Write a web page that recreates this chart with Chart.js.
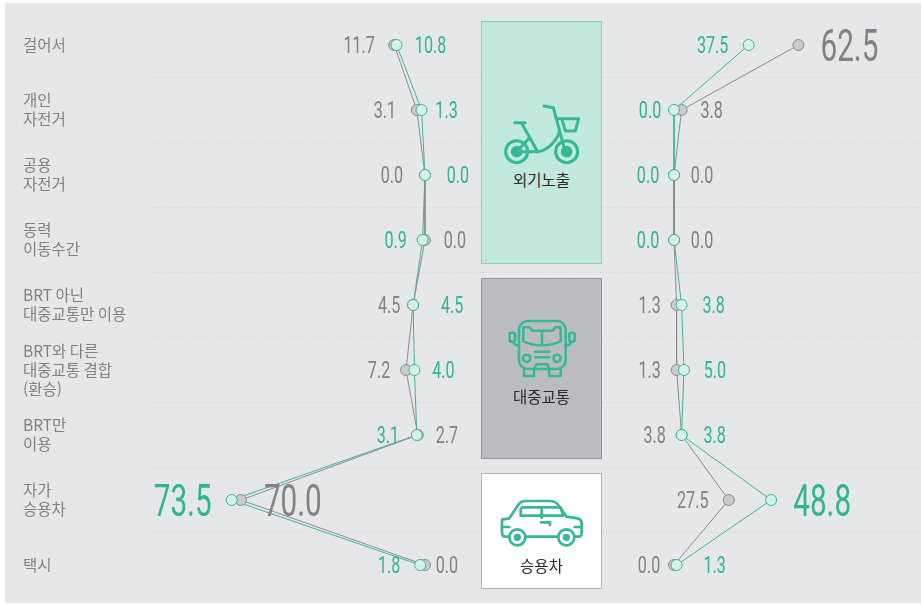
<!DOCTYPE html>
<html lang="ko">
<head>
<meta charset="utf-8">
<script src="https://cdn.jsdelivr.net/npm/chart.js@4"></script>
<style>
    html, body { margin: 0; background: #fff; }
    #page { position: relative; width: 921px; height: 604px; overflow: hidden; }
    #panel { position: absolute; left: 5px; top: 3px; width: 916px; height: 600px; background: #e6e7e9; }
    canvas { position: absolute; left: 0; top: 0; }
    .box { position: absolute; left: 481px; width: 119px; box-sizing: content-box; }
    .box span {
        position: absolute; left: 0; right: 0; text-align: center;
        font: 15.5px "Noto Sans CJK KR"; color: #2a2a2c; line-height: 20px;
    }
    #boxWalk { top: 21px; height: 241px; background: #c1e9de; border: 1.5px solid #85d0bb; }
    #boxBus { top: 278px; height: 179px; background: #bbbcc0; border: 1.5px solid #949598; }
    #boxCar { top: 473px; height: 114px; background: #fff; border: 1.5px solid #b3b4b6; }
    svg { position: absolute; left: 0; top: 0; }
    svg * { fill: none; stroke: #35b896; stroke-linecap: round; stroke-linejoin: round; }
</style>
</head>
<body>
<div id="page">
    <div id="panel"></div>
    <canvas id="chart" width="921" height="604"></canvas>
    <div class="box" id="boxWalk"><span style="top:147px">외기노출</span></div>
    <div class="box" id="boxBus"><span style="top:107px">대중교통</span></div>
    <div class="box" id="boxCar"><span style="top:81px">승용차</span></div>
    <svg width="921" height="604">
        <g transform="translate(470,10) scale(.3333)" stroke-width="9">
            <circle cx="140" cy="425" r="33"></circle>
            <circle cx="140" cy="425" r="13" style="fill:#35b896"></circle>
            <circle cx="290" cy="425" r="33"></circle>
            <circle cx="290" cy="425" r="13" style="fill:#35b896"></circle>
            <path d="M134 338H165M155 340L203 425M140 425L176 386M140 425H205C230 420 255 400 268 368"></path>
            <path d="M222 288L250 293L284 420"></path>
            <path d="M264 326H326L316 363H286L276 328"></path>
        </g>
        <g transform="translate(470,270) scale(.3333)" stroke-width="7.5">
            <rect x="147" y="153" width="140" height="144" rx="26"></rect>
            <path d="M160 172H178L186 182H248L256 172H272V214Q216 238 160 214ZM216 182V226"></path>
            <path d="M196 245H238M196 262H238"></path>
            <circle cx="170" cy="265" r="11"></circle>
            <circle cx="261" cy="265" r="11"></circle>
            <path d="M162 297V318H192V297M238 297V318H272V297M192 297L200 283H232L238 297"></path>
            <rect x="119" y="188" width="16" height="27" rx="5"></rect>
            <rect x="298" y="188" width="16" height="27" rx="5"></rect>
            <path d="M130 215Q132 226 147 226M303 215Q301 226 287 226"></path>
        </g>
        <g transform="translate(470,465) scale(.3333)" stroke-width="8">
            <path d="M118 215H106Q96 215 96 205V164L118 160L146 118Q152 108 165 108H238Q255 108 263 118L290 155L322 160Q335 163 335 175V205Q335 215 325 215H313M167 215H265"></path>
            <circle cx="142" cy="217" r="24"></circle>
            <circle cx="142" cy="217" r="7" style="fill:#35b896"></circle>
            <circle cx="289" cy="217" r="24"></circle>
            <circle cx="289" cy="217" r="7" style="fill:#35b896"></circle>
            <path d="M158 127H272L280 152H152V132ZM215 127V158"></path>
            <path d="M213 172H240V180M96 186H118M314 186H335"></path>
        </g>
    </svg>
</div>
<script>
const categories = [
    ["걸어서"],
    ["개인", "자전거"],
    ["공용", "자전거"],
    ["동력", "이동수간"],
    ["BRT 아닌", "대중교통만 이용"],
    ["BRT와 다른", "대중교통 결합", "(환승)"],
    ["BRT만", "이용"],
    ["자가", "승용차"],
    ["택시"]
];

const leftGreen = [10.8, 1.3, 0.0, 0.9, 4.5, 4.0, 3.1, 73.5, 1.8];
const leftGrey = [11.7, 3.1, 0.0, 0.0, 4.5, 7.2, 2.7, 70.0, 0.0];
const rightGreen = [37.5, 0.0, 0.0, 0.0, 3.8, 5.0, 3.8, 48.8, 1.3];
const rightGrey = [62.5, 3.8, 0.0, 0.0, 1.3, 1.3, 3.8, 27.5, 0.0];

// how far each value label sits from its point, in px
const nudgeLeftGreen = [34, 25, 33, -27, 39, 29, -29, -49, -31];
const nudgeLeftGrey = [-35, -32, -33, 30, -24, -27, 29, 52, 22];
const nudgeRightGreen = [-36, -24, -26, -26, 32, 31, 33, 51, 38];
const nudgeRightGrey = [51, 30, 28, 28, -27, -27, -27, -36, -25];

const GREEN = "#2fb592";
const GREY = "#808285";
const GREEN_LINE = "#35b896";
const GREEN_FILL = "#d6f1e9";
const GREY_LINE = "#8a8b8e";
const GREY_FILL = "#c9cacc";

function lineSet(values, axis, lineColor, pointFill) {
    return {
        data: values,
        xAxisID: axis,
        yAxisID: "y",
        borderColor: lineColor,
        borderWidth: 1,
        backgroundColor: pointFill,
        pointBackgroundColor: pointFill,
        pointBorderColor: lineColor,
        pointBorderWidth: 1,
        pointRadius: 5.5,
        tension: 0
    };
}

// grey lines cross over the green ones, green points stay on top of everything,
// so each green series is split into a dots set and a line set
function greenDots(values, axis, nudges) {
    return { ...lineSet(values, axis, GREEN_LINE, GREEN_FILL), showLine: false, nudges: nudges, labelColor: GREEN };
}

function greenLine(values, axis) {
    return { ...lineSet(values, axis, GREEN_LINE, GREEN_FILL), pointRadius: 0 };
}

function greySet(values, axis, nudges) {
    return { ...lineSet(values, axis, GREY_LINE, GREY_FILL), nudges: nudges, labelColor: GREY };
}

// condensed number labels: Roboto squeezed horizontally
const valueLabels = {
    id: "valueLabels",
    afterDatasetsDraw(chart) {
        const ctx = chart.ctx;

        chart.data.datasets.forEach((set, i) => {
            if (!set.nudges) {
                return;
            }

            const points = chart.getDatasetMeta(i).data;

            set.data.forEach((value, j) => {
                const big = value > 40;
                const size = big ? 45 : 23;

                ctx.save();
                ctx.translate(points[j].x + set.nudges[j], points[j].y + (big ? 16 : 8));
                ctx.scale(big ? 0.66 : 0.7, 1);
                ctx.font = size + "px Roboto";
                ctx.fillStyle = set.labelColor;
                ctx.textAlign = "center";
                ctx.textBaseline = "alphabetic";
                ctx.fillText(value.toFixed(1), 0, 0);
                ctx.restore();
            });
        });
    }
};

new Chart(document.getElementById("chart"), {
    type: "line",

    data: {
        labels: categories,

        datasets: [
            greenDots(leftGreen, "xLeft", nudgeLeftGreen),
            greenDots(rightGreen, "xRight", nudgeRightGreen),
            greySet(leftGrey, "xLeft", nudgeLeftGrey),
            greySet(rightGrey, "xRight", nudgeRightGrey),
            greenLine(leftGreen, "xLeft"),
            greenLine(rightGreen, "xRight")
        ]
    },

    options: {
        indexAxis: "y",
        responsive: false,
        animation: false,

        layout: {
            autoPadding: false,
            padding: { left: 23, right: 0, top: 12.5, bottom: 6.5 }
        },

        plugins: {
            legend: { display: false },
            tooltip: { enabled: false }
        },

        scales: {
            y: {
                type: "category",
                offset: true,
                afterFit(scale) {
                    scale.width = 130;
                    // otherwise half the last label height is kept free below the axis
                    scale.paddingTop = 0;
                    scale.paddingBottom = 0;
                },
                border: { display: false, dash: [1, 2] },
                grid: {
                    offset: true,
                    drawTicks: false,
                    lineWidth: 1,
                    // outermost lines are not drawn in the original
                    color: (c) => (c.index === 0 || c.index === undefined)
                        ? "transparent" : "#d3d4d6"
                },
                ticks: {
                    autoSkip: false,
                    crossAlign: "far",
                    padding: 0,
                    color: "#808285",
                    font: { family: "Noto Sans CJK KR", size: 15.5, lineHeight: 1.23 }
                }
            },

            // reversed so both panels share the 0 near the centre boxes
            xLeft: {
                type: "linear",
                axis: "x",
                display: false,
                reverse: true,
                min: -188.6,
                max: 103.4
            },

            xRight: {
                type: "linear",
                axis: "x",
                display: false,
                min: -261.8,
                max: 124.1
            }
        }
    },

    plugins: [valueLabels]
});
</script>
</body>
</html>
